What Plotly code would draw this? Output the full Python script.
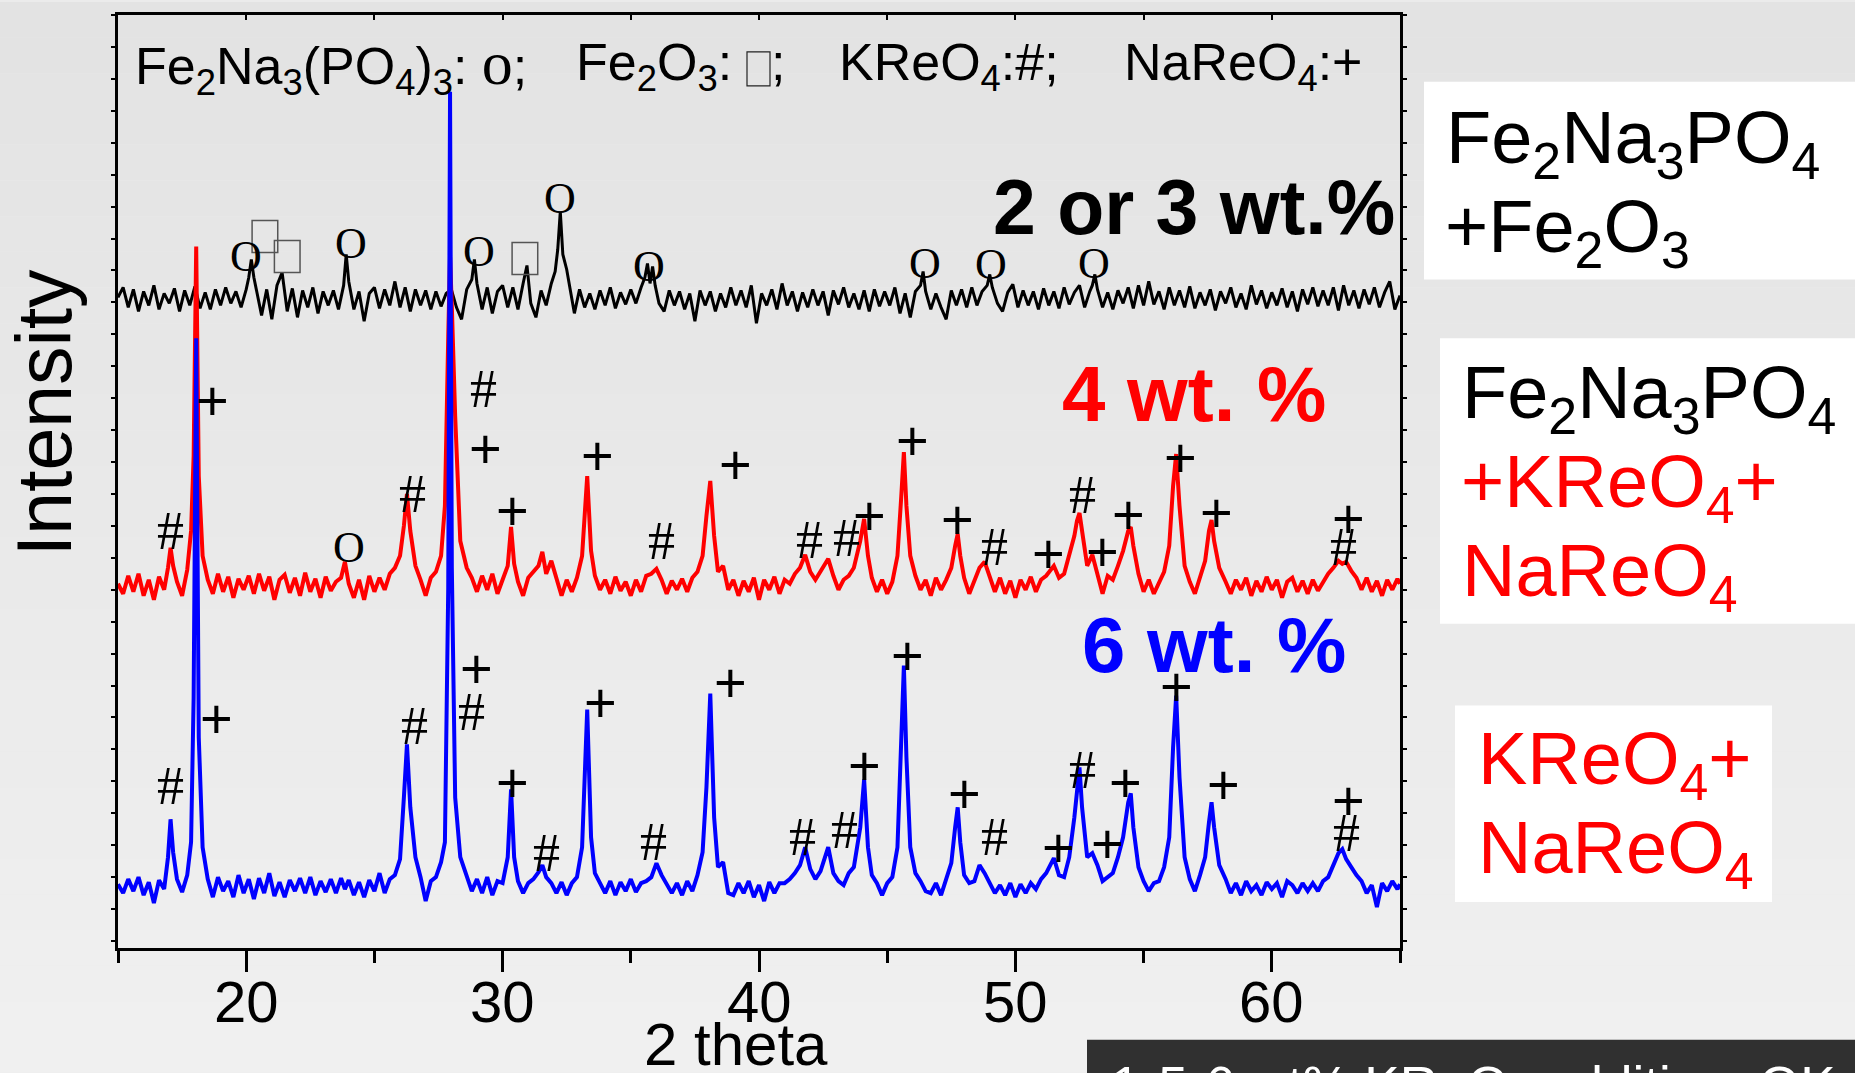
import plotly.graph_objects as go

# ---------------- data (2 theta in degrees, intensity in arbitrary units) ----------------
tt_black = [
    15.0, 15.2, 15.4, 15.6, 15.8, 16.0, 16.2, 16.4, 16.6, 16.8,
    17.0, 17.2, 17.4, 17.6, 17.8, 18.0, 18.2, 18.4, 18.6, 18.8,
    19.0, 19.2, 19.4, 19.6, 19.8, 20.0, 20.1, 20.2, 20.3, 20.45,
    20.6, 20.8, 21.0, 21.2, 21.4, 21.6, 21.8, 22.0, 22.2, 22.4,
    22.6, 22.8, 23.0, 23.2, 23.4, 23.6, 23.8, 23.9, 24.0, 24.2,
    24.4, 24.6, 24.8, 25.0, 25.2, 25.4, 25.6, 25.8, 26.0, 26.2,
    26.4, 26.6, 26.8, 27.0, 27.2, 27.4, 27.6, 27.8, 28.0, 28.2,
    28.4, 28.6, 28.8, 28.9, 29.0, 29.2, 29.4, 29.6, 29.8, 30.0,
    30.2, 30.4, 30.6, 30.8, 30.95, 31.1, 31.3, 31.5, 31.7, 31.9,
    32.05, 32.15, 32.25, 32.35, 32.5, 32.65, 32.8, 33.0, 33.2, 33.4,
    33.6, 33.8, 34.0, 34.2, 34.4, 34.6, 34.8, 35.0, 35.2, 35.4,
    35.55, 35.65, 35.75, 35.85, 35.95, 36.1, 36.3, 36.5, 36.7, 36.9,
    37.1, 37.3, 37.5, 37.7, 37.9, 38.1, 38.3, 38.5, 38.7, 38.9,
    39.1, 39.3, 39.5, 39.7, 39.9, 40.1, 40.3, 40.5, 40.7, 40.9,
    41.1, 41.3, 41.5, 41.7, 41.9, 42.1, 42.3, 42.5, 42.7, 42.9,
    43.1, 43.3, 43.5, 43.7, 43.9, 44.1, 44.3, 44.5, 44.7, 44.9,
    45.1, 45.3, 45.5, 45.7, 45.9, 46.1, 46.3, 46.4, 46.5, 46.7,
    46.9, 47.1, 47.3, 47.5, 47.7, 47.9, 48.1, 48.3, 48.5, 48.7,
    48.9, 49.0, 49.1, 49.3, 49.5, 49.7, 49.9, 50.1, 50.3, 50.5,
    50.7, 50.9, 51.1, 51.3, 51.5, 51.7, 51.9, 52.1, 52.3, 52.5,
    52.7, 52.9, 53.0, 53.1, 53.2, 53.4, 53.6, 53.8, 54.0, 54.2,
    54.4, 54.6, 54.8, 55.0, 55.2, 55.4, 55.6, 55.8, 56.0, 56.2,
    56.4, 56.6, 56.8, 57.0, 57.2, 57.4, 57.6, 57.8, 58.0, 58.2,
    58.4, 58.6, 58.8, 59.0, 59.2, 59.4, 59.6, 59.8, 60.0, 60.2,
    60.4, 60.6, 60.8, 61.0, 61.2, 61.4, 61.6, 61.8, 62.0, 62.2,
    62.4, 62.6, 62.8, 63.0, 63.2, 63.4, 63.6, 63.8, 64.0, 64.2,
    64.4, 64.6, 64.8, 65.0,
]
i_black = [
    2, 12, -8, 10, -12, 8, -6, 14, -10, 6,
    -4, 11, -12, 9, -6, 13, -9, 7, -10, 10,
    -6, 12, -4, 8, -8, 10, 22, 40, 22, 2,
    -16, 10, -20, 14, 27, -12, 11, -18, 9, -8,
    12, -14, 8, -6, 9, -10, 14, 45, 18, -10,
    8, -22, 6, 12, -9, 10, -6, 18, -8, 12,
    -12, 10, -6, 9, -10, 8, -7, 6, 10, -8,
    -20, 10, 20, 40, 16, -10, 12, -14, 8, 14,
    -8, 12, -10, 16, 34, -4, -18, 9, -6, 16,
    28, 50, 88, 45, 30, 8, -14, 10, -8, 6,
    -10, 9, -6, 12, -9, 7, -5, 10, -4, 12,
    22, 36, 16, 33, 14, -4, -12, 9, -6, 8,
    -10, 6, -22, 9, -6, 8, -12, 6, -8, 12,
    -6, 9, -8, 14, -24, 6, -6, 10, -10, 16,
    -6, 8, -12, 7, -8, 10, -6, 8, -16, 9,
    -5, 12, -8, 6, -10, 9, -12, 10, -7, 8,
    -6, 12, -14, 6, -18, 8, 14, 28, 8, -10,
    6, -8, -20, 9, -6, 10, -8, 12, -6, 8,
    14, 25, 12, -4, -12, 7, 15, -8, 9, -6,
    8, -10, 11, -6, 8, -9, 12, -5, 7, 14,
    -8, 8, 14, 25, 10, -8, 7, -10, 9, -4,
    12, -9, 14, -6, 18, -5, 8, -10, 12, -6,
    9, -8, 13, -9, 7, -6, 10, -11, 8, -4,
    12, -8, 6, -10, 14, -5, 9, -9, 7, -6,
    11, -8, 8, -12, 10, -5, 12, -7, 9, -6,
    12, -11, 14, -6, 9, -9, 10, -5, 12, -8,
    7, 18, -10, 4,
]

tt_rb = [
    15.0, 15.2, 15.4, 15.6, 15.8, 16.0, 16.2, 16.4, 16.6, 16.8,
    16.95, 17.05, 17.15, 17.3, 17.5, 17.7, 17.85, 17.95, 18.05, 18.15,
    18.3, 18.5, 18.7, 18.9, 19.1, 19.3, 19.5, 19.7, 19.9, 20.1,
    20.3, 20.5, 20.7, 20.9, 21.1, 21.3, 21.5, 21.7, 21.9, 22.1,
    22.3, 22.5, 22.7, 22.9, 23.1, 23.3, 23.5, 23.7, 23.85, 24.0,
    24.2, 24.4, 24.6, 24.8, 25.0, 25.2, 25.4, 25.6, 25.8, 26.0,
    26.15, 26.27, 26.4, 26.6, 26.8, 27.0, 27.2, 27.4, 27.6, 27.75,
    27.88, 27.95, 28.02, 28.15, 28.35, 28.6, 28.8, 29.0, 29.2, 29.4,
    29.6, 29.8, 30.0, 30.2, 30.33, 30.45, 30.6, 30.8, 31.0, 31.2,
    31.4, 31.55, 31.7, 31.9, 32.1, 32.3, 32.5, 32.7, 32.9, 33.1,
    33.3, 33.45, 33.6, 33.8, 34.0, 34.2, 34.4, 34.6, 34.8, 35.0,
    35.2, 35.4, 35.6, 35.8, 36.0, 36.2, 36.4, 36.6, 36.8, 37.0,
    37.2, 37.4, 37.6, 37.8, 37.95, 38.1, 38.25, 38.4, 38.6, 38.8,
    39.0, 39.2, 39.4, 39.6, 39.8, 40.0, 40.2, 40.4, 40.6, 40.8,
    41.0, 41.2, 41.4, 41.6, 41.8, 42.0, 42.2, 42.4, 42.7, 42.9,
    43.1, 43.3, 43.5, 43.7, 43.95, 44.1, 44.25, 44.4, 44.6, 44.8,
    45.0, 45.2, 45.4, 45.55, 45.65, 45.75, 45.9, 46.1, 46.3, 46.5,
    46.7, 46.9, 47.1, 47.3, 47.5, 47.65, 47.75, 47.85, 48.0, 48.2,
    48.4, 48.6, 48.8, 49.0, 49.2, 49.4, 49.6, 49.8, 50.0, 50.2,
    50.4, 50.6, 50.8, 51.0, 51.2, 51.5, 51.7, 51.9, 52.1, 52.3,
    52.4, 52.5, 52.6, 52.8, 53.0, 53.2, 53.4, 53.6, 53.8, 54.0,
    54.2, 54.4, 54.5, 54.6, 54.8, 55.0, 55.2, 55.4, 55.6, 55.8,
    56.0, 56.15, 56.27, 56.4, 56.6, 56.8, 57.0, 57.2, 57.4, 57.55,
    57.65, 57.75, 57.95, 58.2, 58.4, 58.6, 58.8, 59.0, 59.2, 59.4,
    59.6, 59.8, 60.0, 60.2, 60.4, 60.6, 60.8, 61.0, 61.2, 61.4,
    61.6, 61.8, 62.0, 62.2, 62.4, 62.6, 62.75, 62.9, 63.1, 63.3,
    63.5, 63.7, 63.9, 64.1, 64.3, 64.5, 64.7, 64.9, 65.0,
]
i_red = [
    2, -8, 10, -6, 12, -10, 6, -14, 9, -4,
    18, 38, 20, 4, -10, 16, 55, 130, 340, 110,
    30, 6, -8, 12, -6, 9, -12, 7, -4, 10,
    -8, 12, -5, 9, -14, 6, 11, -7, 8, -10,
    13, -6, 7, -12, 9, -5, 4, 8, 24, 2,
    -12, 6, -14, 10, -6, 8, -4, 12, 18, 30,
    60, 92, 55, 20, 6, -10, 8, 14, 30, 80,
    250, 330, 280, 170, 45, 18, 8, -6, 10, -4,
    12, -8, 6, 20, 59, 22, 4, -10, 8, 14,
    20, 34, 12, 25, 8, -10, 6, -6, 8, 30,
    110, 35, 10, -4, 6, -8, 9, -5, 4, -10,
    6, -6, 10, 12, 17, 6, -8, 5, -4, 7,
    -6, 8, 14, 30, 70, 105, 50, 14, 20, -4,
    6, -10, 5, -6, 8, -14, 6, -4, 9, -8,
    6, 2, 12, 18, 31, 14, 6, 14, 27, 10,
    -4, 6, 10, 18, 45, 67, 30, 8, -6, 6,
    -8, 4, 30, 90, 134, 80, 30, 10, -4, 6,
    -10, 8, -4, 6, 18, 40, 52, 30, 8, -8,
    6, 18, 24, 10, -6, 8, -8, 5, -12, 6,
    -4, 9, -6, 6, 10, 20, 8, 12, 30, 50,
    65, 73, 55, 20, 31, 12, -8, 10, 6, 20,
    35, 55, 59, 40, 12, -6, 6, -8, 4, 14,
    40, 100, 132, 80, 20, 4, -8, 10, 25, 55,
    66, 45, 18, 4, -8, 6, -4, 8, -10, 5,
    -6, 9, -4, 6, -12, 4, 8, -6, 5, -8,
    6, -5, 4, 12, 18, 25, 22, 24, 15, 8,
    -4, 8, -6, 5, -10, 6, -4, 7, 2,
]
i_blue = [
    3, -6, 8, -4, 10, -8, 5, -16, 7, -2,
    30, 68, 35, 8, -5, 12, 45, 190, 550, 150,
    40, 8, -10, 10, -4, 6, -10, 12, -6, 8,
    -12, 9, -6, 14, -9, 5, -10, 7, -4, 9,
    -6, 10, -8, 6, -5, 8, -6, 9, -2, 7,
    -8, 5, -10, 7, -4, 14, -6, 8, 12, 28,
    90, 143, 80, 30, 10, -14, 6, 10, 25, 45,
    300, 797, 320, 90, 30, 12, -4, 8, -6, 10,
    -8, 6, 4, 30, 98, 30, 6, -6, 4, 8,
    15, 22, 10, 4, -6, 5, -8, 4, 10, 40,
    178, 50, 14, 4, -6, 6, -8, 5, -4, 8,
    -5, 4, 6, 10, 24, 12, 2, -6, 4, -8,
    6, -4, 12, 35, 100, 194, 70, 20, 25, -6,
    -8, 4, -6, 6, -10, 2, -14, 5, -6, 4,
    4, 8, 14, 22, 40, 18, 8, 16, 40, 14,
    6, 2, 14, 20, 60, 108, 40, 12, 4, -8,
    4, 10, 40, 150, 222, 130, 40, 14, 6, -4,
    -6, 4, -8, 8, 24, 60, 80, 45, 12, 4,
    6, 22, 14, 4, -6, 2, -8, 4, -10, 3,
    -6, 4, -2, 8, 14, 29, 12, 10, 30, 70,
    100, 120, 80, 30, 34, 22, 6, 10, 14, 30,
    50, 85, 94, 60, 20, 6, -4, 4, 6, 20,
    50, 140, 192, 110, 30, 8, -4, 12, 30, 65,
    85, 60, 22, 8, -6, 4, -8, 6, -4, 2,
    -8, 5, -2, 4, -10, 6, 2, -6, 4, -4,
    4, -4, 6, 10, 22, 34, 38, 28, 20, 12,
    6, -6, 2, -20, 4, -4, 6, -2, 3,
]

# vertical stacking offsets of the three patterns
offset_black, offset_red, offset_blue = 650, 363, 61

# phase marks: symbol, 2 theta, height (same units as the stacked y axis)
black_mark_sym = ["O", "□", "□", "O", "O", "□", "O", "O", "O", "O", "O"]
black_mark_tt = [20.0, 20.73, 21.6, 24.1, 29.08, 30.87, 32.24, 35.7, 46.47, 49.05, 53.07]
black_mark_y = [693, 713, 693, 706, 698, 691, 751, 683, 686, 685, 686]

red_mark_sym = ["#", "+", "O", "#", "#", "+", "+", "+", "#", "+", "#", "#",
                "+", "+", "+", "#", "+", "#", "+", "+", "+", "+", "+", "#"]
red_mark_tt = [17.03, 18.7, 24.0, 26.5, 29.24, 29.35, 30.4, 33.7, 36.2, 39.1, 41.95, 43.4,
               44.3, 46.0, 47.75, 49.2, 51.3, 52.6, 53.4, 54.4, 56.45, 57.85, 63.0, 62.8]
red_mark_y = [418, 549, 401, 455, 560, 501, 438, 494, 408, 485, 409, 411,
              433, 509, 429, 402, 395, 454, 397, 434, 492, 436, 430, 402]

blue_mark_sym = ["#", "+", "#", "+", "#", "+", "#", "+", "#", "+", "#", "#",
                 "+", "+", "+", "#", "+", "#", "+", "+", "+", "+", "+", "#"]
blue_mark_tt = [17.03, 18.86, 26.55, 29.0, 28.77, 30.4, 31.7, 33.8, 35.9, 38.87, 41.7, 43.35,
                44.1, 45.8, 48.0, 49.2, 51.7, 52.6, 53.6, 54.3, 56.27, 58.1, 63.0, 62.9]
blue_mark_y = [162, 230, 222, 280, 237, 166, 95, 246, 106, 266, 111, 118,
               183, 293, 155, 111, 101, 178, 105, 166, 262, 164, 148, 115]

x_major_ticks = [20, 30, 40, 50, 60]
x_minor_ticks = [15, 25, 35, 45, 55, 65]

# ---------------- layout geometry (pixels) ----------------
W, H = 1855, 1073
L, R, T, B = 118, 1400, 13, 948
SANS = "Liberation Sans, Arial, sans-serif"
SERIF = "Liberation Serif, Times New Roman, serif"


def xp(px):
    return (px - L) / (R - L)


def yp(py):
    return (B - py) / (B - T)


fig = go.Figure()

fig.add_trace(go.Scatter(x=tt_black, y=[v + offset_black for v in i_black], mode="lines",
                         line=dict(color="black", width=3), showlegend=False, hoverinfo="skip"))
fig.add_trace(go.Scatter(x=tt_rb, y=[v + offset_red for v in i_red], mode="lines",
                         line=dict(color="#ff0000", width=4), showlegend=False, hoverinfo="skip"))
fig.add_trace(go.Scatter(x=tt_rb, y=[v + offset_blue for v in i_blue], mode="lines",
                         line=dict(color="#0000ff", width=4), showlegend=False, hoverinfo="skip"))
# carrier for the top tick axis
fig.add_trace(go.Scatter(x=[None], y=[None], xaxis="x2", yaxis="y", showlegend=False, hoverinfo="skip"))

shapes = []
# slide background gradient
nb = 30
for k in range(nb):
    c = int(round(227 + (240 - 227) * k / (nb - 1)))
    shapes.append(dict(type="rect", xref="paper", yref="paper", layer="below",
                       x0=xp(0), x1=xp(W), y0=yp(H * (k + 1) / nb), y1=yp(H * k / nb),
                       line=dict(width=0), fillcolor=f"rgb({c},{c},{c})"))
# white label boxes on the right
for (x0, y0, x1, y1) in [(1424, 80, 1860, 278), (1440, 337, 1860, 623), (1455, 705, 1772, 902)]:
    shapes.append(dict(type="rect", xref="paper", yref="paper", layer="below",
                       x0=xp(x0), x1=xp(x1), y0=yp(y1), y1=yp(y0),
                       line=dict(width=0), fillcolor="white"))
# dark caption bar at the bottom
shapes.append(dict(type="rect", xref="paper", yref="paper", layer="above",
                   x0=xp(1087), x1=xp(1870), y0=yp(1090), y1=yp(1040),
                   line=dict(width=0), fillcolor="#303030"))
# rectangle glyph in the header (Fe2O3 symbol)
shapes.append(dict(type="rect", xref="paper", yref="paper", layer="above",
                   x0=xp(747), x1=xp(770), y0=yp(84), y1=yp(50),
                   line=dict(width=1.2, color="#222222"), fillcolor="rgba(0,0,0,0)"))

annotations = []


def add_mark(sym, tt, y):
    if sym == "□":
        shapes.append(dict(type="rect", xref="x", yref="y", layer="above",
                           x0=tt - 0.5, x1=tt + 0.5, y0=y - 16, y1=y + 16,
                           line=dict(width=1.5, color="#555555"), fillcolor="rgba(0,0,0,0)"))
        return
    if sym == "O":
        font = dict(family=SERIF, size=44, color="black")
    elif sym == "#":
        font = dict(family=SERIF, size=54, color="black")
    else:
        font = dict(family=SANS, size=56, color="black")
    annotations.append(dict(x=tt, y=y, xref="x", yref="y", text=sym, showarrow=False,
                            xanchor="center", yanchor="middle", font=font, borderpad=0))


for s, t, y in zip(black_mark_sym, black_mark_tt, black_mark_y):
    add_mark(s, t, y)
for s, t, y in zip(red_mark_sym, red_mark_tt, red_mark_y):
    add_mark(s, t, y)
for s, t, y in zip(blue_mark_sym, blue_mark_tt, blue_mark_y):
    add_mark(s, t, y)


def txt(text, px, py, size, color="black", xanchor="left", yanchor="middle", family=SANS, angle=0):
    annotations.append(dict(x=xp(px), y=yp(py), xref="paper", yref="paper", text=text,
                            showarrow=False, xanchor=xanchor, yanchor=yanchor, textangle=angle,
                            font=dict(family=family, size=size, color=color), borderpad=0))


# header legend of phases
HS = 52
HY = 64
txt("Fe<sub>2</sub>Na<sub>3</sub>(PO<sub>4</sub>)<sub>3</sub>: "
    "<span style='font-family:Liberation Serif;font-size:62px'>o</span>;", 134, HY, HS)
txt("Fe<sub>2</sub>O<sub>3</sub>:", 575, HY, HS)
txt(";", 770, HY - 4, HS)
txt("KReO<sub>4</sub>:#;", 838, HY, HS)
txt("NaReO<sub>4</sub>:+", 1123, HY, HS)

# concentration labels
txt("<b>2 or 3 wt.%</b>", 1396, 205, 77, "black", xanchor="right")
txt("<b>4 wt. %</b>", 1327, 393, 78, "#ff0000", xanchor="right")
txt("<b>6 wt. %</b>", 1347, 644, 78, "#0000ff", xanchor="right")

# right-hand phase boxes
BS = 74
txt("Fe<sub>2</sub>Na<sub>3</sub>PO<sub>4</sub>", 1445, 163 - 22, BS)
txt("+Fe<sub>2</sub>O<sub>3</sub>", 1444, 252 - 22, BS)
txt("Fe<sub>2</sub>Na<sub>3</sub>PO<sub>4</sub>", 1461, 419 - 22, BS)
txt("+KReO<sub>4</sub>+", 1460, 508 - 22, BS, "#ff0000")
txt("NaReO<sub>4</sub>", 1461, 597 - 22, BS, "#ff0000")
txt("KReO<sub>4</sub>+", 1477, 786 - 22, BS, "#ff0000")
txt("NaReO<sub>4</sub>", 1477, 875 - 22, BS, "#ff0000")

# x tick labels (placed to match the reference spacing under the axis)
for v in x_major_ticks:
    annotations.append(dict(x=v, y=yp(1002), xref="x", yref="paper", text=str(v),
                            showarrow=False, xanchor="center", yanchor="middle",
                            font=dict(family=SANS, size=58, color="black"), borderpad=0))

# axis titles
txt("Intensity", 44, 412, 77, xanchor="center", angle=-90)
txt("2 theta", 736, 1045, 60, xanchor="center")

# caption bar text (cut by the page edge)
txt("1-5-6 wt% KReO<sub>4</sub> addition: OK", 1110, 1055, 53, "white", yanchor="top")

fig.update_layout(
    width=W, height=H, autosize=False,
    margin=dict(l=L, r=W - R, t=T, b=H - B, pad=0),
    paper_bgcolor="#ebebeb", plot_bgcolor="rgba(0,0,0,0)",
    showlegend=False,
    shapes=shapes, annotations=annotations,
    xaxis=dict(range=[15, 65], showgrid=False, zeroline=False,
               showline=True, linewidth=3, linecolor="black", mirror=True,
               ticks="outside", ticklen=21, tickwidth=3, tickcolor="black",
               tickvals=x_major_ticks, showticklabels=False,
               minor=dict(tickvals=x_minor_ticks, ticks="outside", ticklen=12,
                          tickwidth=3, tickcolor="black", showgrid=False)),
    xaxis2=dict(range=[15, 65], overlaying="x", side="top", showgrid=False, zeroline=False,
                showline=False, ticks="inside", ticklen=5, tickwidth=2, tickcolor="black",
                tick0=15, dtick=5, showticklabels=False),
    yaxis=dict(range=[0, B - T], showgrid=False, zeroline=False,
               showline=True, linewidth=3, linecolor="black", mirror="ticks",
               ticks="outside", ticklen=4, tickwidth=2, tickcolor="black",
               tick0=7, dtick=32, showticklabels=False),
)

fig.write_html("out.html")
